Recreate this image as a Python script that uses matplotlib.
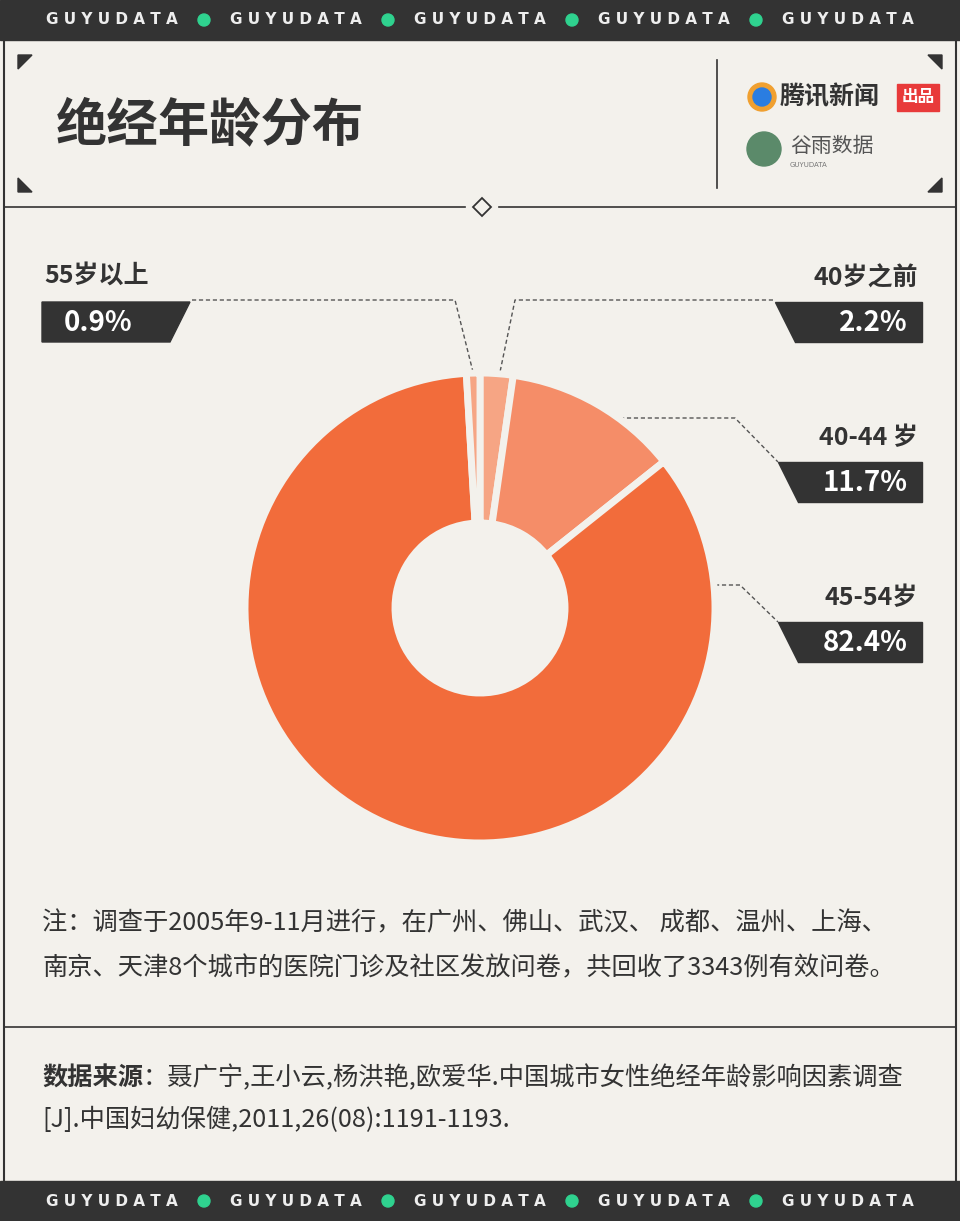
import matplotlib
matplotlib.use("Agg")
import matplotlib.pyplot as plt
from matplotlib.patches import Polygon, Rectangle, Circle

plt.rcParams['font.family'] = ['Noto Sans CJK SC', 'DejaVu Sans']

labels = ['40岁之前', '40-44 岁', '45-54岁', '55岁以上']
values = [2.2, 11.7, 82.4, 0.9]
colors = ['#f6a584', '#f58d68', '#f26c3b', '#f6a584']

BG = '#f3f1ec'
DARK = '#333333'
W, H = 960, 1221
fig = plt.figure(figsize=(9.6, 12.21), dpi=100, facecolor=BG)
ax = fig.add_axes([0, 0, 1, 1])
ax.set_xlim(0, W); ax.set_ylim(H, 0); ax.axis('off')

for y0 in (0, 1181):
    ax.add_patch(Rectangle((0, y0), W, 40, color=DARK))
    for i in range(5):
        cx = 112 + i * 184
        ax.text(cx, y0 + 20, 'G U Y U D A T A', color='#eeeeee', fontsize=11, fontweight='bold',
                ha='center', va='center', family='DejaVu Sans')
        if i < 4:
            ax.add_patch(Circle((cx + 92, y0 + 20), 6, color='#2fd28f'))
ax.plot([4, 4], [40, 1181], color=DARK, lw=1.5)
ax.plot([956, 956], [40, 1181], color=DARK, lw=1.5)
ax.plot([4, 465], [207, 207], color=DARK, lw=1.2)
ax.plot([499, 956], [207, 207], color=DARK, lw=1.2)
ax.add_patch(Polygon([(482, 198), (491, 207), (482, 216), (473, 207)], closed=True,
                     fc=BG, ec=DARK, lw=1.3))
ax.plot([4, 956], [1027, 1027], color=DARK, lw=1.2)
ax.plot([717, 717], [60, 188], color=DARK, lw=1.2)
s = 14
for pts in ([(18, 55), (18 + s, 55), (18, 55 + s)],
            [(18, 192), (18 + s, 192), (18, 192 - s)],
            [(942, 55), (942 - s, 55), (942, 55 + s)],
            [(942, 192), (942 - s, 192), (942, 192 - s)]):
    ax.add_patch(Polygon(pts, closed=True, color=DARK))

ax.text(56, 125, '绝经年龄分布', fontsize=37, fontweight='bold', color=DARK, va='center')
ax.add_patch(Circle((762, 97), 14, color='#f0a030'))
ax.add_patch(Circle((762, 97), 9, color='#2a7de1'))
ax.text(780, 97, '腾讯新闻', fontsize=18, fontweight='bold', color=DARK, va='center')
ax.add_patch(Rectangle((897, 84), 42, 27, color='#e83a3a'))
ax.text(918, 97, '出品', fontsize=12, fontweight='bold', color='white', va='center', ha='center')
ax.add_patch(Circle((764, 149), 17, color='#5b8a6a'))
ax.text(790, 146, '谷雨数据', fontsize=15, color='#555555', va='center')
ax.text(790, 165, 'GUYUDATA', fontsize=5, color='#777777', va='center', family='DejaVu Sans')

pax = fig.add_axes([230 / W, (H - 858) / H, 500 / W, 500 / H])
pax.pie(values, colors=colors, startangle=90, counterclock=False, radius=0.94,
        wedgeprops=dict(width=0.6, edgecolor=BG, linewidth=5))
pax.set_xlim(-1, 1); pax.set_ylim(-1, 1); pax.set_aspect('equal'); pax.axis('off')

def tag_right(x0, x1, y0, txt):
    ax.add_patch(Polygon([(x0, y0), (x1, y0), (x1, y0 + 40), (x0 + 20, y0 + 40)], closed=True, color=DARK))
    ax.text(x1 - 14, y0 + 21, txt, fontsize=20, fontweight='bold', color='white', ha='right', va='center')

def tag_left(x0, x1, y0, txt):
    ax.add_patch(Polygon([(x0, y0), (x1, y0), (x1 - 20, y0 + 40), (x0, y0 + 40)], closed=True, color=DARK))
    ax.text(x0 + 22, y0 + 21, txt, fontsize=20, fontweight='bold', color='white', ha='left', va='center')

pct = ['%.1f%%' % v for v in values]
tag_right(775, 922, 302, pct[0]); ax.text(918, 278, labels[0], fontsize=18, fontweight='bold', color=DARK, ha='right', va='center')
tag_right(778, 922, 462, pct[1]); ax.text(918, 438, labels[1], fontsize=18, fontweight='bold', color=DARK, ha='right', va='center')
tag_right(778, 922, 622, pct[2]); ax.text(918, 598, labels[2], fontsize=18, fontweight='bold', color=DARK, ha='right', va='center')
tag_left(42, 190, 302, pct[3]); ax.text(44, 276, labels[3], fontsize=18, fontweight='bold', color=DARK, ha='left', va='center')

kw = dict(color='#555555', lw=1, ls=(0, (3, 2)))
ax.plot([192, 455, 473], [300, 300, 372], **kw)
ax.plot([773, 515, 500], [300, 300, 372], **kw)
ax.plot([620, 735, 778], [418, 418, 462], **kw)
ax.plot([715, 740, 778], [585, 585, 622], **kw)

fs = 18.2
ax.text(42, 923, '注：调查于2005年9-11月进行，在广州、佛山、武汉、 成都、温州、上海、', fontsize=fs, color=DARK, va='center')
ax.text(42, 968, '南京、天津8个城市的医院门诊及社区发放问卷，共回收了3343例有效问卷。', fontsize=fs, color=DARK, va='center')
ax.text(42, 1078, '数据来源', fontsize=fs, fontweight='bold', color=DARK, va='center')
ax.text(143, 1078, '：聂广宁,王小云,杨洪艳,欧爱华.中国城市女性绝经年龄影响因素调查', fontsize=fs, color=DARK, va='center')
ax.text(42, 1120, '[J].中国妇幼保健,2011,26(08):1191-1193.', fontsize=fs, color=DARK, va='center')

fig.savefig('out.png', dpi=100, facecolor=BG)
